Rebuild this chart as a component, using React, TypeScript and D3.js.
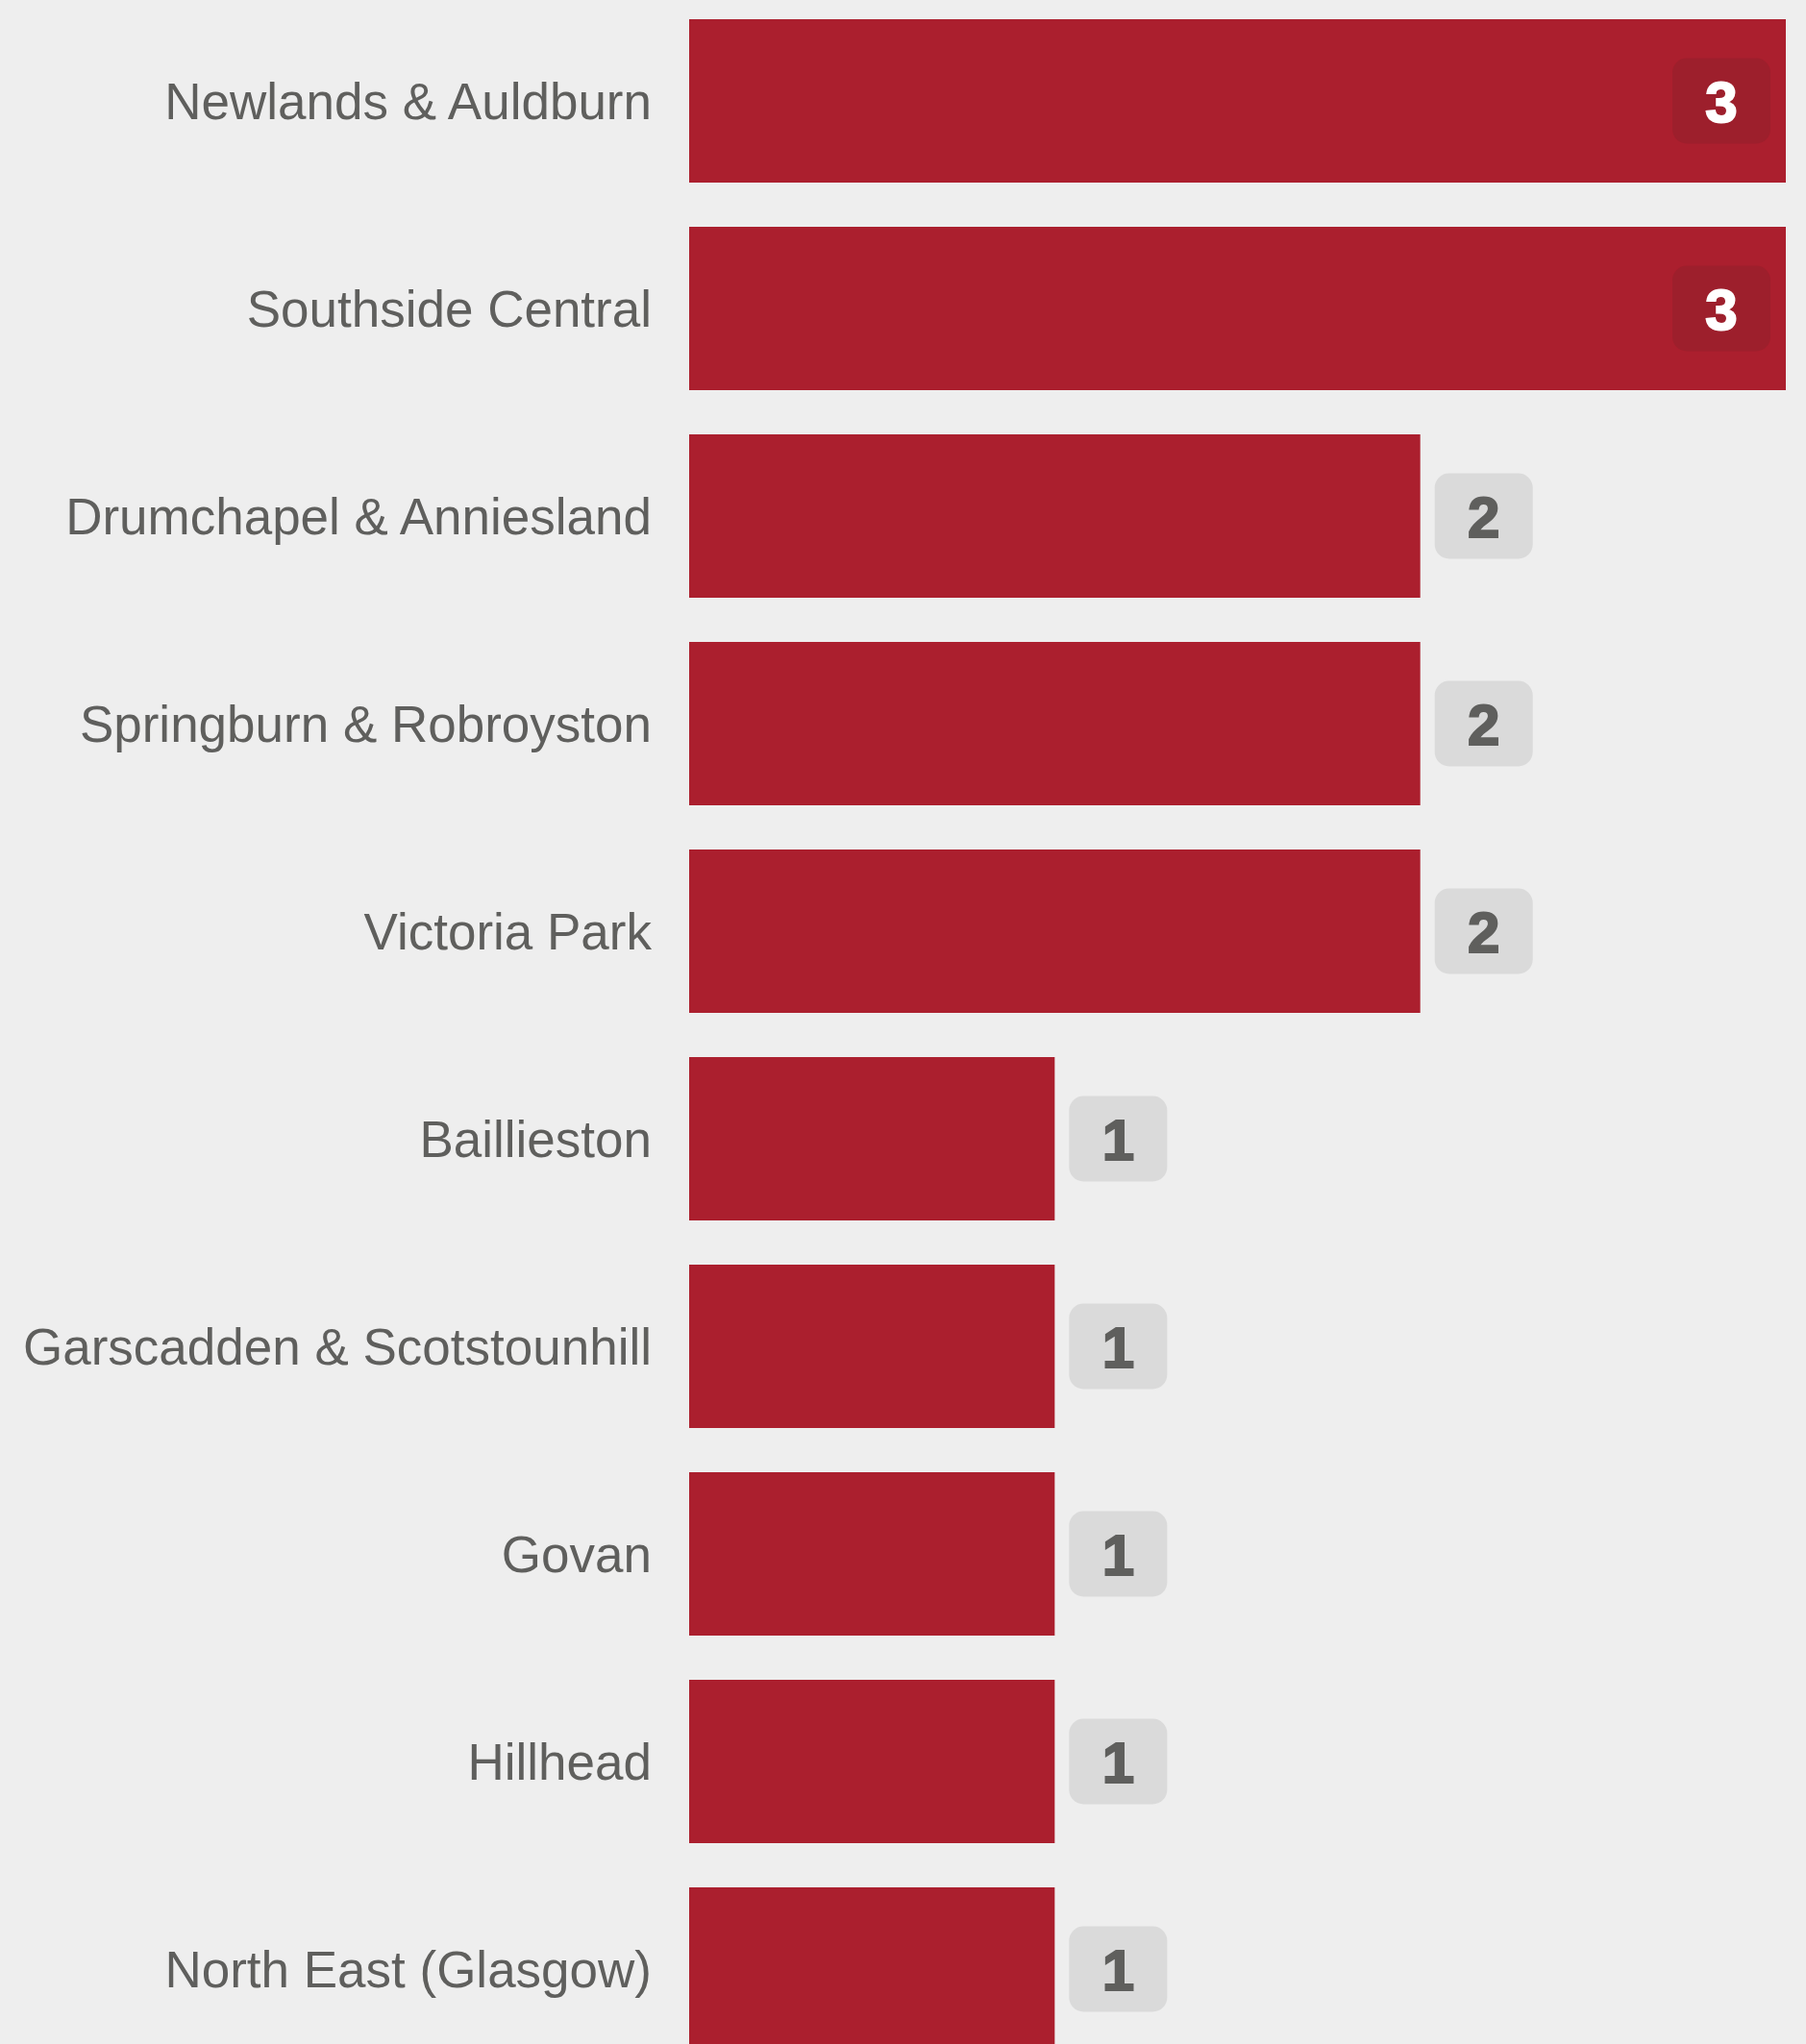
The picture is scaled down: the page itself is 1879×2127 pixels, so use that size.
import React from "react";
import * as d3 from "d3";

const categories = [
  "Newlands & Auldburn",
  "Southside Central",
  "Drumchapel & Anniesland",
  "Springburn & Robroyston",
  "Victoria Park",
  "Baillieston",
  "Garscadden & Scotstounhill",
  "Govan",
  "Hillhead",
  "North East (Glasgow)",
];
const values = [3, 3, 2, 2, 2, 1, 1, 1, 1, 1];

const W = 1879;
const H = 2127;

export default function App() {
  const x = d3.scaleLinear().domain([0, 3]).range([717, 1858]);
  const y = d3
    .scaleBand<string>()
    .domain(categories)
    .range([20, 20 + 9 * 216 + 170])
    .paddingInner(46 / 216)
    .paddingOuter(0);
  const bw = y.bandwidth();
  const maxV = d3.max(values) as number;
  const boxW = 102;
  const boxH = 89;

  return (
    <svg
      width={W}
      height={H}
      style={{ position: "absolute", left: 0, top: 0, display: "block" }}
      fontFamily="'Liberation Sans', Arial, Helvetica, sans-serif"
    >
      <rect x={0} y={0} width={W} height={H} fill="#eeeeee" />
      {categories.map((c, i) => {
        const v = values[i];
        const y0 = y(c) as number;
        const cy = y0 + bw / 2;
        const xEnd = x(v);
        const inside = v === maxV;
        const bx = inside ? xEnd - 16 - boxW : xEnd + 15;
        return (
          <g key={c}>
            <text
              x={678}
              y={cy}
              dy="0.36em"
              textAnchor="end"
              fontSize={53}
              fill="#5f5f5d"
            >
              {c}
            </text>
            <rect x={x(0)} y={y0} width={xEnd - x(0)} height={bw} fill="#ab1f2e" />
            <rect
              x={bx}
              y={cy - boxH / 2}
              width={boxW}
              height={boxH}
              rx={15}
              ry={15}
              fill={inside ? "#9d1f2c" : "#dadada"}
            />
            <text
              x={bx + boxW / 2}
              y={cy}
              dy="0.36em"
              textAnchor="middle"
              fontSize={60}
              fontWeight="bold"
              fill={inside ? "#ffffff" : "#5f5f5d"}
              stroke={inside ? "#ffffff" : "#5f5f5d"}
              strokeWidth={2}
            >
              {v}
            </text>
          </g>
        );
      })}
    </svg>
  );
}
